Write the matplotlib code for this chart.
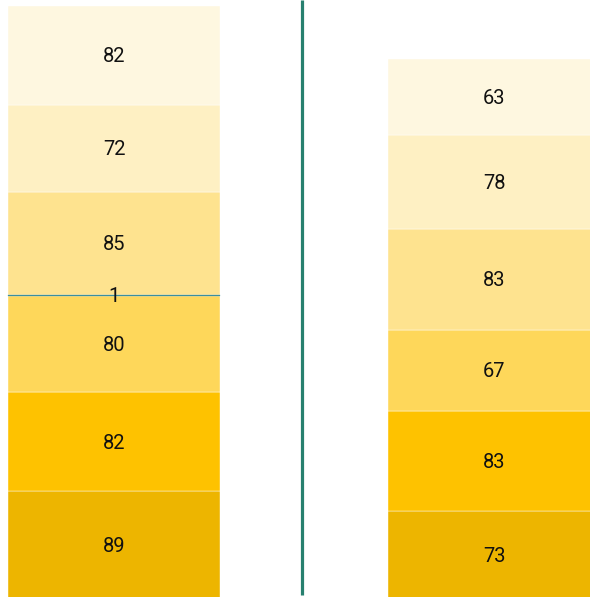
import matplotlib.pyplot as plt

# values, bottom to top
left_vals = [89, 82, 80, 1, 85, 72, 82]
left_colors = ['#EDB500', '#FEC200', '#FED75A', '#3A8FA0', '#FEE38F', '#FEF0C3', '#FEF7E0']
right_vals = [73, 83, 67, 83, 78, 63]
right_colors = ['#EDB500', '#FEC200', '#FED75A', '#FEE38F', '#FEF0C3', '#FEF7E0']

plt.rcParams['font.family'] = ['Roboto', 'DejaVu Sans']

fig = plt.figure(figsize=(5.90, 5.97), dpi=100)
ax = fig.add_axes([0, 0, 1, 1])
px = 1.208  # pixels per unit
base = -2 / px  # bars start just below the image edge

def stack(xc, w, vals, cols):
    bottom = base
    for v, c in zip(vals, cols):
        thin = v < 3
        ax.bar(xc, v, w, bottom=bottom, color=c,
               edgecolor=c if thin else 'white', linewidth=0.2 if thin else 0.3,
               zorder=3 if thin else 2)
        ax.text(xc, bottom + v / 2 - 1.5 / px, str(v), ha='center', va='center',
                fontsize=14.5, color='#111111', zorder=4)
        bottom += v

stack(114, 212, left_vals, left_colors)
stack(494, 212, right_vals, right_colors)

ax.plot([301.5, 301.5], [2 / px, 597 / px], color='#27806F', lw=2.3, solid_capstyle='butt')

ax.set_xlim(0, 590)
ax.set_ylim(0, 597 / px)
ax.axis('off')
fig.savefig('out.png', dpi=100)
